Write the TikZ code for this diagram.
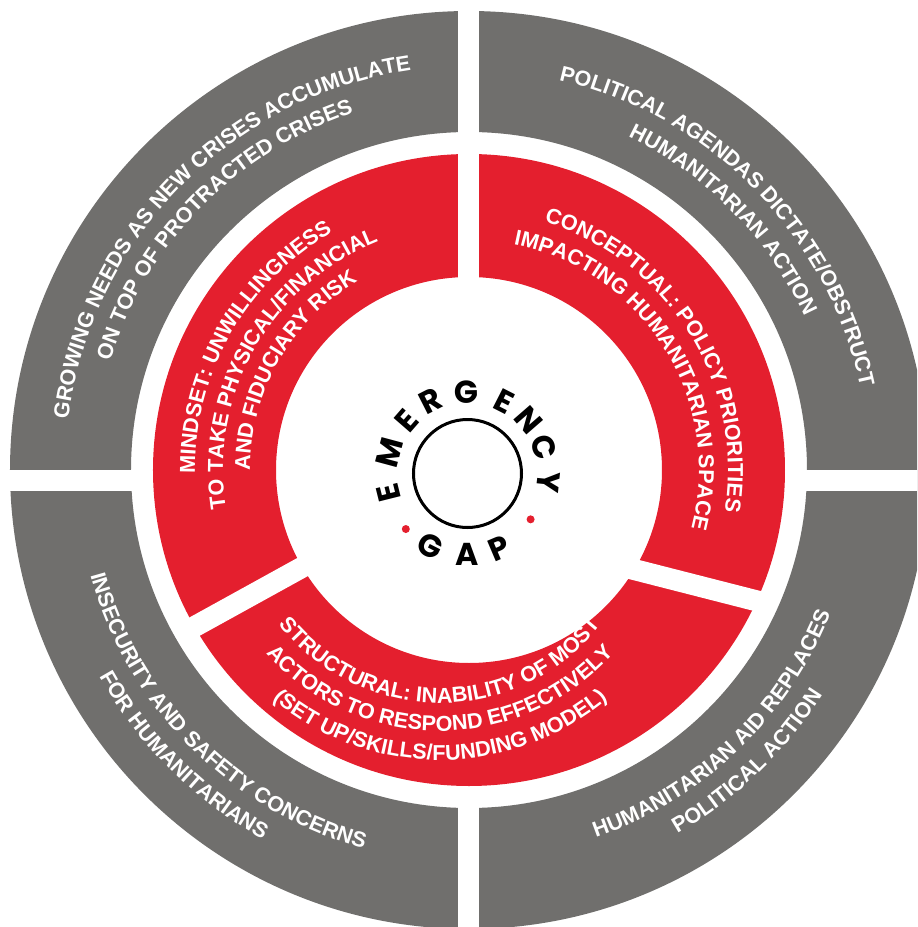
\documentclass[tikz,border=0pt]{standalone}
\usepackage{fontspec}
\setmainfont{Liberation Sans}
\newfontfamily\gapfont{Poppins}
\usetikzlibrary{decorations.text}

\definecolor{ringgrey}{RGB}{112,111,109}
\definecolor{ringred}{RGB}{228,31,46}
\newcommand\ringfont{\fontsize{12.3}{14}\selectfont\bfseries}

\tikzset{
  ringtext/.style={decorate, decoration={text along path, text align=center,
    text color=white, text={|\ringfont|#1}}},
  letter/.style={font=\gapfont\fontsize{18}{18}\selectfont\bfseries, inner sep=0pt}
}

\begin{document}
\begin{tikzpicture}[x=0.02cm, y=0.02cm]
\useasboundingbox (-469,-457) rectangle (448,470);
\clip (-469,-457) rectangle (448,470);

% the two rings
\fill[ringgrey, even odd rule] (0,0) circle[radius=459] (0,0) circle[radius=338];
\fill[ringred, even odd rule] (0,0) circle[radius=316] (0,0) circle[radius=193];

% white cuts between the parts
\begin{scope}[white]
	\fill (-11,0) rectangle (10,470);
	\fill (-11,-330) rectangle (10,-470);
	\fill (-470,0) rectangle (-330,-21);
	\fill (330,0) rectangle (470,-21);
	\draw[line width=0.42cm] (-121,-72) -- (-286,-163);
	\draw[line width=0.42cm] (120,-88) -- (300,-134);
\end{scope}

% outer ring
\path[ringtext={GROWING NEEDS AS NEW CRISES ACCUMULATE}] (215.5:404) arc[start angle=215.5, end angle=55.5, radius=404];
\path[ringtext={ON TOP OF PROTRACTED CRISES}] (215.5:375) arc[start angle=215.5, end angle=55.5, radius=375];
\path[ringtext={POLITICAL AGENDAS DICTATE/OBSTRUCT}] (124.5:400) arc[start angle=124.5, end angle=-35.5, radius=400];
\path[ringtext={HUMANITARIAN ACTION}] (124.5:369) arc[start angle=124.5, end angle=-35.5, radius=369];
\path[ringtext={INSECURITY AND SAFETY CONCERNS}] (145:393) arc[start angle=145, end angle=305, radius=393];
\path[ringtext={FOR HUMANITARIANS}] (145:423) arc[start angle=145, end angle=305, radius=423];
\path[ringtext={HUMANITARIAN AID REPLACES}] (233.7:389) arc[start angle=233.7, end angle=393.7, radius=389];
\path[ringtext={POLITICAL ACTION}] (233.7:419) arc[start angle=233.7, end angle=393.7, radius=419];

% inner ring
\path[ringtext={MINDSET: UNWILLINGNESS}] (230.3:274) arc[start angle=230.3, end angle=70.3, radius=274];
\path[ringtext={TO TAKE PHYSICAL/FINANCIAL}] (230.3:246) arc[start angle=230.3, end angle=70.3, radius=246];
\path[ringtext={AND FIDUCIARY RISK}] (230.3:219) arc[start angle=230.3, end angle=70.3, radius=219];
\path[ringtext={CONCEPTUAL: POLICY PRIORITIES}] (112:259) arc[start angle=112, end angle=-48, radius=259];
\path[ringtext={IMPACTING HUMANITARIAN SPACE}] (112:230) arc[start angle=112, end angle=-48, radius=230];
\begin{scope}[shift={(-29,-28)}]
	\path[ringtext={STRUCTURAL: INABILITY OF MOST}] (190:205) arc[start angle=190, end angle=350, radius=205];
	\path[ringtext={ACTORS TO RESPOND EFFECTIVELY}] (190:233) arc[start angle=190, end angle=350, radius=233];
	\path[ringtext={(SET UP/SKILLS/FUNDING MODEL)}] (190:262) arc[start angle=190, end angle=350, radius=262];
\end{scope}

% centre badge
\begin{scope}[shift={(-1.5,-3.5)}, every node/.style={letter}]
	\draw[line width=0.06cm] (0,0) circle[radius=54];
	\foreach \ch/\a [count=\i] in {E/194,M/165,E/139,R/117,G/91,E/63,N/41,C/19,Y/-6}
		\node[rotate=\a-90] (em\i) at (\a:81) {\ch};
	\foreach \ch/\a [count=\i] in {G/243,A/270,P/293}
		\node[rotate=\a+90] (gap\i) at (\a:81) {\ch};
	\fill[ringred] (222:83) circle[radius=4];
	\fill[ringred] (324:78) circle[radius=4];
\end{scope}

\end{tikzpicture}
\end{document}
